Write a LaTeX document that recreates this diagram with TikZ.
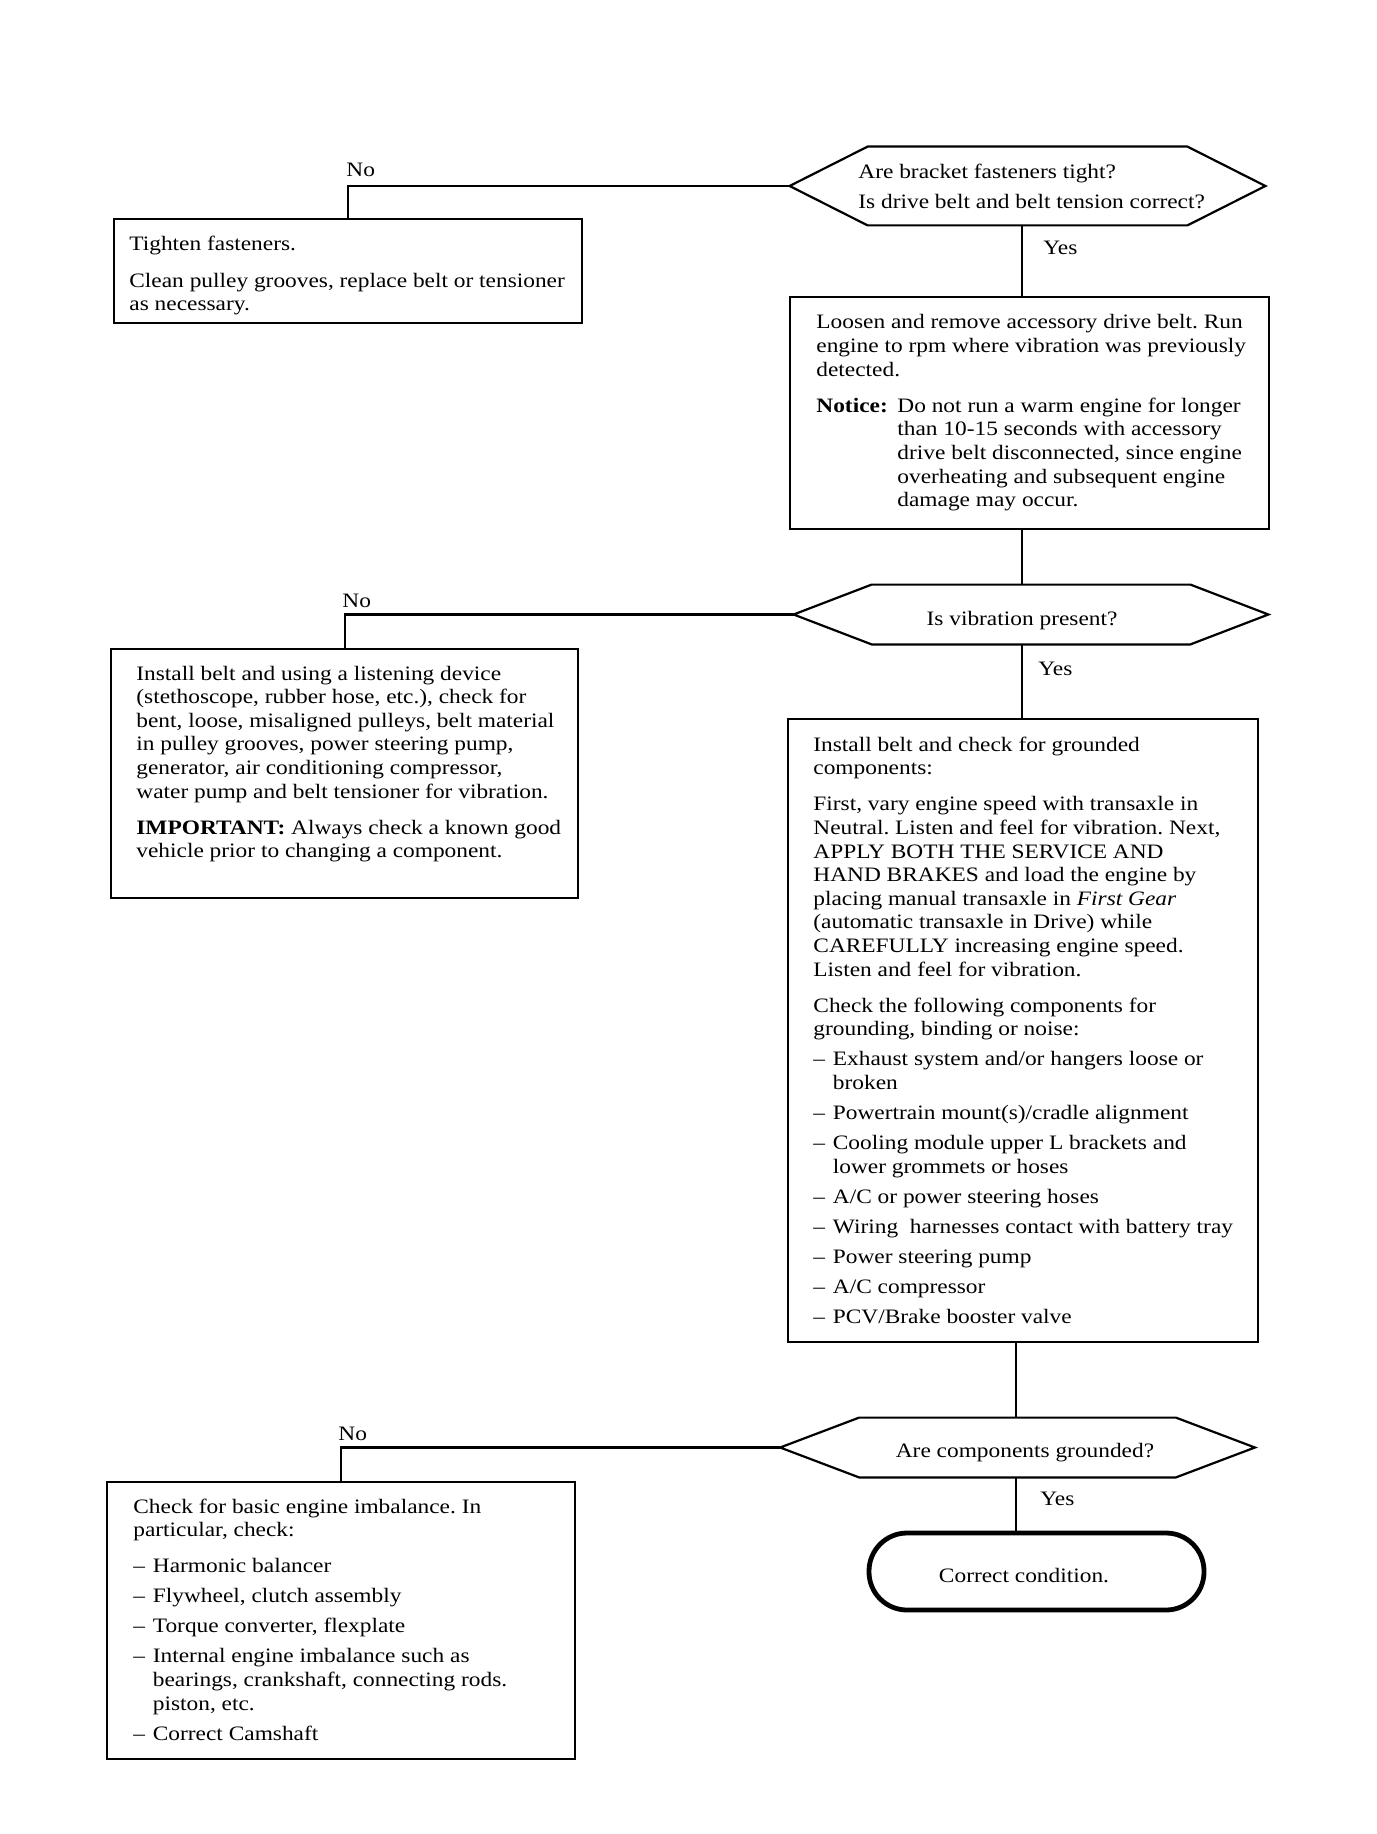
\documentclass[tikz,border=0pt]{standalone}
\usepackage{fontspec}
\setmainfont{Liberation Serif}[FakeStretch=1.14]
\usetikzlibrary{calc}
\frenchspacing
\newcommand{\mytxt}[1]{\parbox[t]{330pt}{\raggedright\frenchspacing\fontsize{10.25pt}{11.8pt}\selectfont #1}}
\newcommand{\dashitem}{\makebox[9.75pt][l]{--}}
\newcommand{\dashind}{\hspace*{9.75pt}}
\newcommand{\hangind}{\hspace*{40.5pt}}
\begin{document}
\begin{tikzpicture}[x=0.5pt,y=-0.5pt,
  ln/.style={line width=1.1pt},
  box/.style={draw, line width=1.1pt, rectangle, inner sep=0pt, anchor=north west},
  hexnode/.style={inner sep=0pt, rectangle},
  txt/.style={inner sep=0pt, anchor=base west},
  ctxt/.style={inner sep=0pt, anchor=base, font=\fontsize{10.25pt}{11.8pt}\selectfont},
  lbl/.style={inner sep=0pt, anchor=base west, font=\fontsize{10.25pt}{11.8pt}\selectfont},
  term/.style={draw, line width=2.4pt, rectangle, rounded corners=19pt, inner sep=0pt}
]
\useasboundingbox[fill=white] (0,0) rectangle (1376,1834);

% columns of the vertical connectors
\coordinate (colA) at (1022,0);
\coordinate (colB) at (1016,0);

% ---------- boxes ----------
\node[box, minimum width=234pt, minimum height=52pt] (b1) at (113,218) {};
\node[box, minimum width=239.5pt, minimum height=116pt] (b2) at (789,296) {};
\node[box, minimum width=233.5pt, minimum height=124.5pt] (b3) at (110,648) {};
\node[box, minimum width=235pt, minimum height=311.5pt] (b4) at (787,718) {};
\node[box, minimum width=234pt, minimum height=138.5pt] (b5) at (106,1481) {};

% ---------- decision hexagons ----------
\node[hexnode, minimum width=159.5pt, minimum height=39pt] (d1) at (1027.5,186) {};
\coordinate (d1w) at ([xshift=-39pt]d1.west);
\coordinate (d1e) at ([xshift=39pt]d1.east);
\draw[ln] (d1.north west) -- (d1.north east) -- (d1e) -- (d1.south east) -- (d1.south west) -- (d1w) -- cycle;

\node[hexnode, minimum width=159pt, minimum height=29.5pt] (d2) at (1031,614.5) {};
\coordinate (d2w) at ([xshift=-39pt]d2.west);
\coordinate (d2e) at ([xshift=39pt]d2.east);
\draw[ln] (d2.north west) -- (d2.north east) -- (d2e) -- (d2.south east) -- (d2.south west) -- (d2w) -- cycle;

\node[hexnode, minimum width=158pt, minimum height=29.5pt] (d3) at (1017.5,1447.5) {};
\coordinate (d3w) at ([xshift=-39.5pt]d3.west);
\coordinate (d3e) at ([xshift=39.5pt]d3.east);
\draw[ln] (d3.north west) -- (d3.north east) -- (d3e) -- (d3.south east) -- (d3.south west) -- (d3w) -- cycle;

% ---------- terminal ----------
\node[term, minimum width=167.5pt, minimum height=38.5pt] (t) at (1036.5,1571.5) {};

% ---------- connectors ----------
\draw[ln] (d1w) -| (b1.north);
\draw[ln] (colA |- d1.south) -- (colA |- b2.north);
\draw[ln] (colA |- b2.south) -- (colA |- d2.north);
\draw[ln] (d2w) -| (b3.north);
\draw[ln] (colA |- d2.south) -- (colA |- b4.north);
\draw[ln] (colB |- b4.south) -- (colB |- d3.north);
\draw[ln] (d3w) -| (b5.north);
\draw[ln] (colB |- d3.south) -- (colB |- t.north);

% ---------- labels ----------
\node[lbl] (n1) at (346,177) {No};
\node[lbl] (y1) at (1043,255) {Yes};
\node[lbl] (n2) at (342,607) {No};
\node[lbl] (y2) at (1038,675) {Yes};
\node[lbl] (n3) at (338,1440) {No};
\node[lbl] (y3) at (1040,1505) {Yes};

% ---------- texts ----------
\node[txt] (d1t) at (858,179) {\mytxt{Are bracket fasteners tight?\\[3.2pt]
Is drive belt and belt tension correct?}};
\node[ctxt] (d2t) at (1022,625) {Is vibration present?};
\node[ctxt] (d3t) at (1025,1457) {Are components grounded?};
\node[ctxt] (tt) at (1024,1582) {Correct condition.};

\node[txt] (b1t) at (129,251) {\mytxt{Tighten fasteners.\\[6.3pt]
Clean pulley grooves, replace belt or tensioner\\
as necessary.}};

\node[txt] (b2t) at (816,329) {\mytxt{Loosen and remove accessory drive belt. Run\\
engine to rpm where vibration was previously\\
detected.\\[6.3pt]
\makebox[40.5pt][l]{\textbf{Notice:}}Do not run a warm engine for longer\\
\hangind than 10-15 seconds with accessory\\
\hangind drive belt disconnected, since engine\\
\hangind overheating and subsequent engine\\
\hangind damage may occur.}};

\node[txt] (b3t) at (136,680) {\mytxt{Install belt and using a listening device\\
(stethoscope, rubber hose, etc.), check for\\
bent, loose, misaligned pulleys, belt material\\
in pulley grooves, power steering pump,\\
generator, air conditioning compressor,\\
water pump and belt tensioner for vibration.\\[6.3pt]
\textbf{IMPORTANT:} Always check a known good\\
vehicle prior to changing a component.}};

\node[txt] (b4t) at (813,751) {\mytxt{Install belt and check for grounded\\
components:\\[6.3pt]
First, vary engine speed with transaxle in\\
Neutral. Listen and feel for vibration. Next,\\
APPLY BOTH THE SERVICE AND\\
HAND BRAKES and load the engine by\\
placing manual transaxle in \textit{First Gear}\\
(automatic transaxle in Drive) while\\
CAREFULLY increasing engine speed.\\
Listen and feel for vibration.\\[6.3pt]
Check the following components for\\
grounding, binding or noise:\\[3.2pt]
\dashitem Exhaust system and/or hangers loose or\\
\dashind broken\\[3.2pt]
\dashitem Powertrain mount(s)/cradle alignment\\[3.2pt]
\dashitem Cooling module upper L brackets and\\
\dashind lower grommets or hoses\\[3.2pt]
\dashitem A/C or power steering hoses\\[3.2pt]
\dashitem Wiring\ \ harnesses contact with battery tray\\[3.2pt]
\dashitem Power steering pump\\[3.2pt]
\dashitem A/C compressor\\[3.2pt]
\dashitem PCV/Brake booster valve}};

\node[txt] (b5t) at (133,1513) {\mytxt{Check for basic engine imbalance. In\\
particular, check:\\[6.3pt]
\dashitem Harmonic balancer\\[3.2pt]
\dashitem Flywheel, clutch assembly\\[3.2pt]
\dashitem Torque converter, flexplate\\[3.2pt]
\dashitem Internal engine imbalance such as\\
\dashind bearings, crankshaft, connecting rods.\\
\dashind piston, etc.\\[3.2pt]
\dashitem Correct Camshaft}};
\end{tikzpicture}
\end{document}
